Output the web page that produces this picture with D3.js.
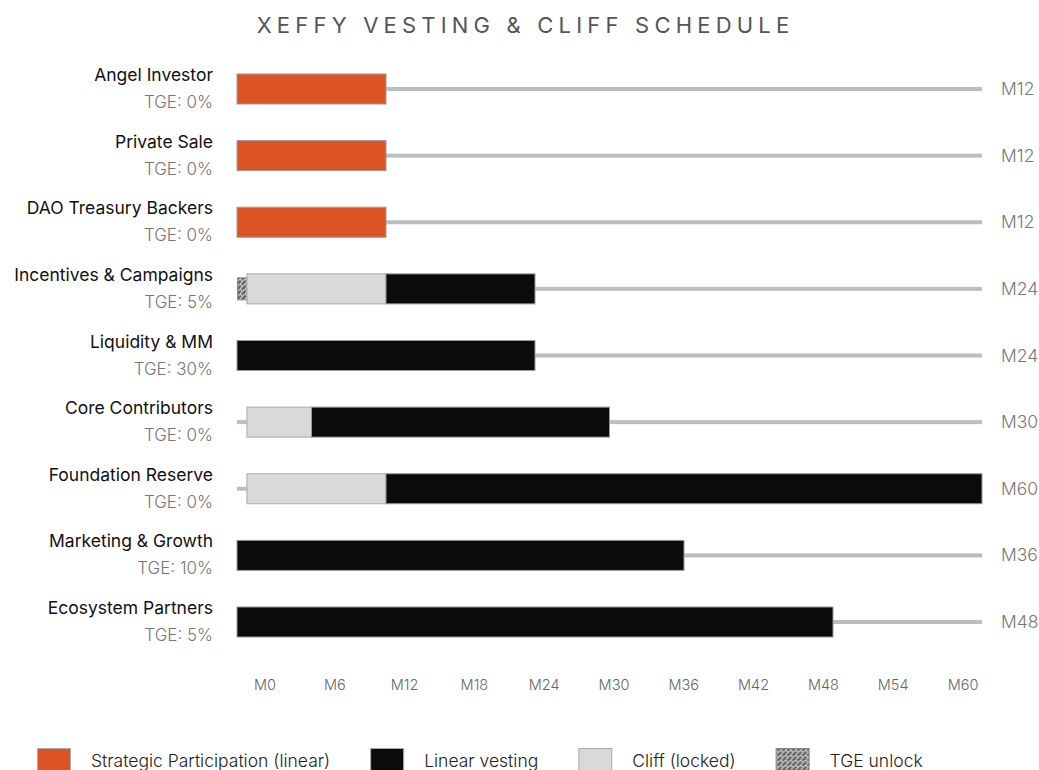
<!DOCTYPE html>
<html>
<head>
<meta charset="utf-8">
<title>Xeffy Vesting & Cliff Schedule</title>
<style>
body { margin: 0; background: #fff; font-family: Inter, "Noto Sans", sans-serif; overflow: hidden; }
.name { font-size: 17.5px; font-weight: 400; fill: #111; }
.tge { font-size: 17px; font-weight: 300; fill: #777; }
.endlab { font-size: 17.5px; font-weight: 300; fill: #777; }
.tick { font-size: 14.5px; font-weight: 300; fill: #666; }
.legend text { font-size: 17.5px; font-weight: 300; fill: #222; }
</style>
</head>
<body>
<script src="https://d3js.org/d3.v7.min.js"></script>
<script>

// the data
var names   = ["Angel Investor", "Private Sale", "DAO Treasury Backers", "Incentives & Campaigns",
               "Liquidity & MM", "Core Contributors", "Foundation Reserve", "Marketing & Growth",
               "Ecosystem Partners"];
var tgePct  = [0, 0, 0, 5, 30, 0, 0, 10, 5];
var kinds   = ["strategic", "strategic", "strategic", "linear", "linear", "linear", "linear", "linear", "linear"];
var cliffs  = [0, 0, 0, 12, 0, 6, 12, 0, 0];      // cliff end, months
var ends    = [12, 12, 12, 24, 24, 30, 60, 36, 48]; // vesting end, months
var tgeMark = [false, false, false, true, false, false, false, false, false];
var ticks   = [0, 6, 12, 18, 24, 30, 36, 42, 48, 54, 60];
var legendItems = ["Strategic Participation (linear)", "Linear vesting", "Cliff (locked)", "TGE unlock"];

const W = 1039, H = 770;
const tgeSlot = 0.8;   // months taken by the small TGE box in front of a cliff
const barH = 30;

var colors = { strategic: "#dd5424", linear: "#0b0b0b", cliff: "#d9d9d9" };

var svg = d3.select("body").append("svg")
    .attr("width", W)
    .attr("height", H);

// hatched pattern for TGE unlock
var defs = svg.append("defs");
var pat = defs.append("pattern")
    .attr("id", "hatch")
    .attr("patternUnits", "userSpaceOnUse")
    .attr("width", 5).attr("height", 5);
pat.append("rect").attr("width", 5).attr("height", 5).attr("fill", "#666");
pat.append("path").attr("d", "M0,5 L5,0 M0,0 L2,2")
    .attr("stroke", "#d4d4d4").attr("stroke-width", 1.1);

// scales
var x = d3.scaleLinear().domain([0, 60]).range([237, 982]);
var xt = d3.scaleLinear().domain([0, 60]).range([265, 963]);
var y = d3.scalePoint().domain(names).range([89, 622]);

// title
svg.append("text")
    .attr("x", W / 2 + 6)
    .attr("y", 33)
    .attr("text-anchor", "middle")
    .style("font-size", "22px")
    .style("letter-spacing", "5.2px")
    .style("fill", "#555")
    .text("XEFFY VESTING & CLIFF SCHEDULE");

var rows = svg.selectAll(".row")
    .data(names.map(function(n, i) {
      return { name: n, tge: tgePct[i], kind: kinds[i], cliff: cliffs[i], end: ends[i], mark: tgeMark[i] };
    }))
  .enter().append("g")
    .attr("class", "row")
    .attr("transform", function(d) { return "translate(0," + y(d.name) + ")"; });

// track line
rows.append("rect")
    .attr("x", x(0))
    .attr("y", -2)
    .attr("width", x(60) - x(0))
    .attr("height", 4)
    .attr("fill", "#bdbdbd");

// TGE box
rows.filter(function(d) { return d.mark; }).append("rect")
    .attr("x", x(0) + 0.5)
    .attr("y", -barH / 2 + 4)
    .attr("width", x(tgeSlot) - x(0))
    .attr("height", barH - 8)
    .attr("fill", "url(#hatch)")
    .attr("stroke", "#888");

// cliff part
rows.filter(function(d) { return d.cliff > 0; }).append("rect")
    .attr("x", x(tgeSlot))
    .attr("y", -barH / 2)
    .attr("width", function(d) { return x(d.cliff) - x(tgeSlot); })
    .attr("height", barH)
    .attr("fill", colors.cliff)
    .attr("stroke", "#aaa")
    .attr("stroke-width", 1);

// vesting part
rows.append("rect")
    .attr("x", function(d) { return x(d.cliff); })
    .attr("y", -barH / 2)
    .attr("width", function(d) { return x(d.end) - x(d.cliff); })
    .attr("height", barH)
    .attr("fill", function(d) { return colors[d.kind]; })
    .attr("stroke", "#999")
    .attr("stroke-width", 1);

// labels
rows.append("text")
    .attr("class", "name")
    .attr("x", 213)
    .attr("y", -8)
    .attr("text-anchor", "end")
    .text(function(d) { return d.name; });

rows.append("text")
    .attr("class", "tge")
    .attr("x", 213)
    .attr("y", 19)
    .attr("text-anchor", "end")
    .text(function(d) { return "TGE: " + d.tge + "%"; });

rows.append("text")
    .attr("class", "endlab")
    .attr("x", 1001)
    .attr("y", 6)
    .text(function(d) { return "M" + d.end; });

// month ticks
svg.selectAll(".tick")
    .data(ticks)
  .enter().append("text")
    .attr("class", "tick")
    .attr("x", function(d) { return xt(d); })
    .attr("y", 690)
    .attr("text-anchor", "middle")
    .text(function(d) { return "M" + d; });

// legend
var legendFill = [colors.strategic, colors.linear, colors.cliff, "url(#hatch)"];
var legend = svg.append("g").attr("class", "legend");
var lx = 37;
legendItems.forEach(function(label, i) {
  var g = legend.append("g").attr("transform", "translate(" + lx + ",0)");
  g.append("rect")
      .attr("x", 0.5).attr("y", 748.5)
      .attr("width", 33).attr("height", 26)
      .attr("fill", legendFill[i])
      .attr("stroke", i == 3 ? "#888" : "#aaa");
  var t = g.append("text")
      .attr("x", 54)
      .attr("y", 767)
      .text(label);
  lx += 54 + t.node().getComputedTextLength() + 40;
});

</script>
</body>
</html>
